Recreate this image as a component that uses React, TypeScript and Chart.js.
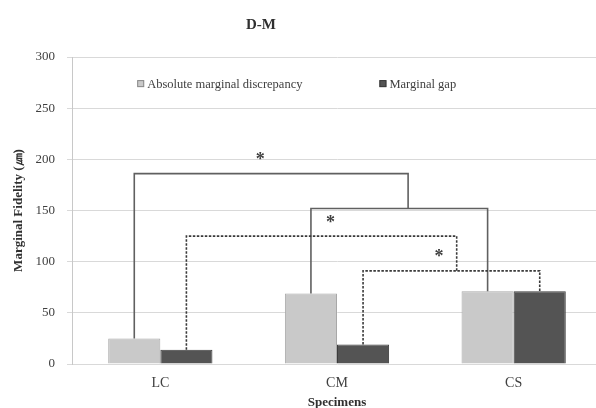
import React, { useEffect, useRef } from "react";
import { Chart, registerables } from "chart.js";

Chart.register(...registerables);

const chartTitle = "D-M";
const categories = ["LC", "CM", "CS"];
const seriesNames = ["Absolute marginal discrepancy", "Marginal gap"];
const absoluteDiscrepancy = [25, 69, 71];
const marginalGap = [14, 19, 71];
const yTickMin = 0;
const yTickMax = 300;
const yTickStep = 50;
const yAxisTitle = "Marginal Fidelity (㎛)";
const xAxisTitle = "Specimens";

// significance brackets: from a bar (category, dataset) up to a level, across, down to a bar or onto another bracket
const bracketFrom = [
  { cat: 0, ds: 0 },
  { cat: 1, ds: 0 },
  { cat: 0, ds: 1 },
  { cat: 1, ds: 1 },
];
const bracketLevel = [186, 152, 125, 91];
const bracketTo = [
  { join: 1, frac: 0.55 },
  { cat: 2, ds: 0 },
  { join: 3, frac: 0.53 },
  { cat: 2, ds: 1 },
];
const bracketDashed = [false, false, true, true];
const starMarks = [
  { bracket: 0, frac: 0.46, value: 203 },
  { bracket: 1, frac: 0.11, value: 142 },
  { bracket: 3, frac: 0.43, value: 108 },
];

const SERIF = "'Liberation Serif', 'Times New Roman', serif";
const LIGHT = "#c9c9c9";
const DARK = "#545454";

const annotations = {
  id: "annotations",
  afterDatasetsDraw(chart: any) {
    const { ctx, scales } = chart;
    const ys = scales.y;
    const barX = (cat: number, ds: number) => chart.getDatasetMeta(ds).data[cat].x;
    const barY = (cat: number, ds: number) => chart.getDatasetMeta(ds).data[cat].y;
    const resolved: any[] = new Array(bracketFrom.length);
    const resolve = (i: number): any => {
      if (resolved[i]) return resolved[i];
      const f = bracketFrom[i];
      const t: any = bracketTo[i];
      const x1 = barX(f.cat, f.ds);
      const y1 = barY(f.cat, f.ds);
      const yl = ys.getPixelForValue(bracketLevel[i]);
      let x2: number, y2: number;
      if (t.join !== undefined) {
        const o = resolve(t.join);
        x2 = o.x1 + (o.x2 - o.x1) * t.frac;
        y2 = o.yl;
      } else {
        x2 = barX(t.cat, t.ds);
        y2 = barY(t.cat, t.ds);
      }
      resolved[i] = { x1, y1, x2, y2, yl };
      return resolved[i];
    };
    ctx.save();
    for (let i = 0; i < bracketFrom.length; i++) {
      const r = resolve(i);
      ctx.beginPath();
      ctx.lineWidth = 1.6;
      ctx.strokeStyle = bracketDashed[i] ? "#3a3a3a" : "#606060";
      ctx.setLineDash(bracketDashed[i] ? [2.5, 1.5] : []);
      ctx.moveTo(r.x1, r.y1);
      ctx.lineTo(r.x1, r.yl);
      ctx.lineTo(r.x2, r.yl);
      ctx.lineTo(r.x2, r.y2);
      ctx.stroke();
    }
    ctx.setLineDash([]);
    ctx.fillStyle = "#404040";
    ctx.font = `bold 18px ${SERIF}`;
    ctx.textAlign = "center";
    ctx.textBaseline = "alphabetic";
    const m = ctx.measureText("*");
    const mid = (m.actualBoundingBoxAscent - m.actualBoundingBoxDescent) / 2;
    starMarks.forEach((s) => {
      const r = resolve(s.bracket);
      const x = r.x1 + (r.x2 - r.x1) * s.frac;
      const y = ys.getPixelForValue(s.value);
      ctx.fillText("*", x, y + mid);
    });
    ctx.restore();
  },
  afterDraw(chart: any) {
    const { ctx, chartArea } = chart;
    ctx.save();
    // title
    ctx.fillStyle = "#303030";
    ctx.font = `bold 15px ${SERIF}`;
    ctx.textAlign = "center";
    ctx.textBaseline = "middle";
    ctx.fillText(chartTitle, 261, 25);
    // legend
    const w = chartArea.right - chartArea.left;
    const legendY = chart.scales.y.getPixelForValue(274);
    const starts = [0.123, 0.58];
    ctx.font = `12.5px ${SERIF}`;
    ctx.textAlign = "left";
    chart.data.datasets.forEach((d: any, i: number) => {
      const x = chartArea.left + w * starts[i];
      ctx.fillStyle = d.backgroundColor;
      ctx.fillRect(x, legendY - 3.5, 7, 7);
      ctx.strokeStyle = i === 0 ? "#8a8a8a" : "#3a3a3a";
      ctx.lineWidth = 1;
      ctx.strokeRect(x + 0.5, legendY - 3, 6, 6);
      ctx.fillStyle = "#404040";
      ctx.fillText(d.label, x + 10, legendY + 1);
    });
    ctx.restore();
  },
};

export default function App() {
  const ref = useRef<HTMLCanvasElement>(null);
  useEffect(() => {
    if (!ref.current) return;
    const chart = new Chart(ref.current, {
      type: "bar",
      data: {
        labels: categories,
        datasets: [
          {
            label: seriesNames[0],
            data: absoluteDiscrepancy,
            backgroundColor: LIGHT,
            borderColor: "#a8a8a8",
            borderWidth: 1,
          },
          {
            label: seriesNames[1],
            data: marginalGap,
            backgroundColor: DARK,
            borderColor: "#3c3c3c",
            borderWidth: 1,
          },
        ],
      },
      options: {
        responsive: false,
        animation: false,
        devicePixelRatio: 1,
        layout: { padding: { top: 57, left: 0, right: 0, bottom: 0 } },
        datasets: { bar: { categoryPercentage: 0.59, barPercentage: 1.0 } },
        plugins: { legend: { display: false }, title: { display: false }, tooltip: { enabled: false } },
        scales: {
          x: {
            grid: { display: false, drawTicks: false },
            border: { display: false },
            ticks: { color: "#404040", font: { family: SERIF, size: 14 }, padding: 11 },
            title: {
              display: true,
              text: xAxisTitle,
              color: "#303030",
              font: { family: SERIF, size: 13, weight: "bold", lineHeight: 0.8 },
              padding: { top: 0, bottom: 0 },
            },
            afterFit: (s: any) => {
              s.height = 44;
            },
          },
          y: {
            min: yTickMin,
            max: yTickMax,
            ticks: { stepSize: yTickStep, color: "#404040", font: { family: SERIF, size: 13 }, padding: 12 },
            grid: { color: "#d9d9d9", lineWidth: 1, tickLength: 5 },
            border: { display: true, color: "#c8c8c8" },
            title: {
              display: true,
              text: yAxisTitle,
              color: "#303030",
              font: { family: SERIF, size: 13, weight: "bold", lineHeight: 1.2 },
              padding: { top: 11, bottom: 0 },
            },
            afterFit: (s: any) => {
              s.width = 72;
            },
          },
        },
      },
      plugins: [annotations],
    });
    return () => chart.destroy();
  }, []);
  return (
    <div style={{ position: "fixed", left: 0, top: 0, width: 596, height: 408, overflow: "hidden", background: "#fff" }}>
      <canvas ref={ref} width={602} height={408} style={{ display: "block" }} />
    </div>
  );
}
